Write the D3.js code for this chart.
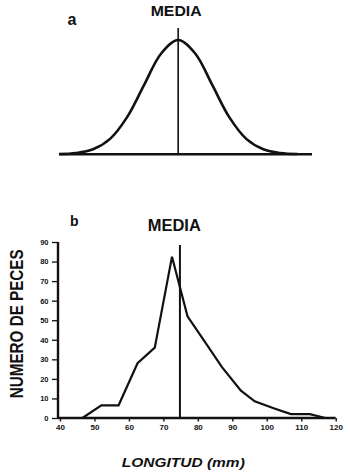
<!DOCTYPE html>
<html>
<head>
<meta charset="utf-8">
<script src="https://cdn.jsdelivr.net/npm/d3@7"></script>
<style>
  html, body { margin: 0; padding: 0; background: #fff; }
  svg { display: block; }
  text { font-family: "Liberation Sans", Arial, Helvetica, sans-serif; fill: #111; }
</style>
</head>
<body>
<svg id="chart" width="350" height="473"></svg>
<script>
// ---- Panel a: idealised normal curve (heights, in sigma units)
const curveZ = [-3.5, -3, -2.5, -2, -1.5, -1, -0.5, 0, 0.5, 1, 1.5, 2, 2.5, 3, 3.5];
const curveH = [0.002, 0.011, 0.044, 0.135, 0.325, 0.607, 0.882, 1, 0.882, 0.607, 0.325, 0.135, 0.044, 0.011, 0.002];
const meanZ = 0;

// ---- Panel b: fish length frequency
const lengths = [46.5, 52, 57, 62.5, 67.5, 72.5, 77, 82, 87, 92.5, 96.5, 102, 107, 112.5, 117];
const fishCount = [0, 6.5, 6.5, 28, 36, 82.5, 52, 39, 26, 14, 8.5, 5, 2, 2, 0];
const meanLength = 74.8;
const xTicks = [40, 50, 60, 70, 80, 90, 100, 110, 120];
const yTicks = [0, 10, 20, 30, 40, 50, 60, 70, 80, 90];

const svg = d3.select("#chart");
const ink = "#111";

// ================= Panel a =================
const xa = d3.scaleLinear().domain([-3.5, 3.93]).range([59, 312]);
const ya = d3.scaleLinear().domain([0, 1]).range([154.3, 40]);

svg.append("line")
  .attr("x1", xa(-3.5)).attr("x2", xa(3.93))
  .attr("y1", ya(0)).attr("y2", ya(0))
  .attr("stroke", ink).attr("stroke-width", 2.6);

svg.append("path")
  .datum(curveZ.map((z, i) => [z, curveH[i]]))
  .attr("d", d3.line().x(d => xa(d[0])).y(d => ya(d[1])).curve(d3.curveCatmullRom))
  .attr("fill", "none").attr("stroke", ink).attr("stroke-width", 2.6);

svg.append("line")
  .attr("x1", xa(meanZ)).attr("x2", xa(meanZ))
  .attr("y1", 28).attr("y2", ya(0))
  .attr("stroke", ink).attr("stroke-width", 1.6);

svg.append("text").attr("x", 176.2).attr("y", 15.5)
  .attr("text-anchor", "middle").attr("font-size", 15).attr("font-weight", "bold")
  .attr("textLength", 51).attr("lengthAdjust", "spacingAndGlyphs")
  .text("MEDIA");
svg.append("text").attr("x", 67.5).attr("y", 25)
  .attr("font-size", 16).attr("font-weight", "bold").text("a");

// ================= Panel b =================
const x = d3.scaleLinear().domain([40, 120]).range([60, 335.7]);
const y = d3.scaleLinear().domain([0, 90]).range([418, 242]);

const gx = svg.append("g").attr("transform", `translate(0,${y(0)})`)
  .call(d3.axisBottom(x).tickValues(xTicks).tickSize(3.5).tickPadding(3).tickSizeOuter(0));
gx.select(".domain").attr("stroke", ink).attr("stroke-width", 2.4)
  .attr("d", `M${x(40) - 2},0H${x(120)}`);
gx.selectAll(".tick line").attr("stroke", ink).attr("stroke-width", 1.4);
gx.selectAll(".tick text").attr("font-size", 8).attr("font-weight", "bold")
  .attr("font-family", "Liberation Sans, Arial, sans-serif").attr("fill", ink);

const gy = svg.append("g").attr("transform", `translate(58,0)`)
  .call(d3.axisLeft(y).tickValues(yTicks).tickSize(6).tickPadding(3.5).tickSizeOuter(0));
gy.select(".domain").attr("stroke", ink).attr("stroke-width", 2.4)
  .attr("d", `M0,${y(90)}V${y(0) + 1}`);
gy.selectAll(".tick line").attr("stroke", ink).attr("stroke-width", 1.3);
gy.selectAll(".tick text").attr("font-size", 7.5).attr("font-weight", "bold")
  .attr("font-family", "Liberation Sans, Arial, sans-serif").attr("fill", ink);

svg.append("path")
  .datum(lengths.map((l, i) => [l, fishCount[i]]))
  .attr("d", d3.line().x(d => x(d[0])).y(d => y(d[1])))
  .attr("fill", "none").attr("stroke", ink).attr("stroke-width", 2.2)
  .attr("stroke-linejoin", "miter");

svg.append("line")
  .attr("x1", x(meanLength)).attr("x2", x(meanLength))
  .attr("y1", 245).attr("y2", y(0))
  .attr("stroke", ink).attr("stroke-width", 2);

svg.append("text").attr("x", 174.3).attr("y", 230.7)
  .attr("text-anchor", "middle").attr("font-size", 16).attr("font-weight", "bold")
  .attr("textLength", 53).attr("lengthAdjust", "spacingAndGlyphs")
  .text("MEDIA");
svg.append("text").attr("x", 70).attr("y", 226)
  .attr("font-size", 14).attr("font-weight", "bold").text("b");

svg.append("text")
  .attr("transform", "translate(22.5,323.8) rotate(-90)")
  .attr("text-anchor", "middle").attr("font-size", 17.5).attr("font-weight", "bold")
  .attr("textLength", 149).attr("lengthAdjust", "spacingAndGlyphs")
  .text("NUMERO DE PECES");

svg.append("text").attr("x", 183.3).attr("y", 466.5)
  .attr("text-anchor", "middle").attr("font-size", 13.5).attr("font-weight", "bold")
  .attr("font-style", "italic")
  .attr("textLength", 123).attr("lengthAdjust", "spacingAndGlyphs")
  .text("LONGITUD (mm)");
</script>
</body>
</html>
